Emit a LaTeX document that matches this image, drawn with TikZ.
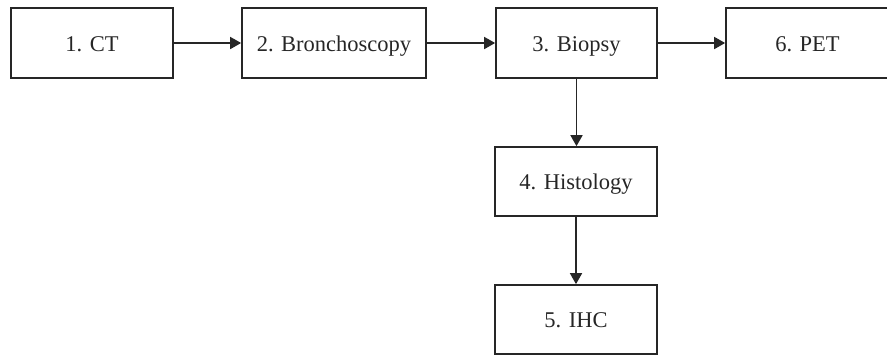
\documentclass[tikz,border=0pt]{standalone}
\usepackage{fontspec}
\setmainfont{Liberation Serif}
\usetikzlibrary{arrows.meta}
\begin{document}
\begin{tikzpicture}[x=1pt,y=-1pt,
  box/.style={draw=black!85, line width=1.7pt, inner sep=0pt, minimum height=70pt,
    text height=16pt, text depth=0pt,
    font=\fontsize{22.5}{27}\selectfont, text=black!85},
  conn/.style={line width=1.7pt, draw=black!85, -{Triangle[length=11pt,width=12pt]}}]
\useasboundingbox (0,0) rectangle (887,354);
\node[box, minimum width=162pt] (ct) at (92,43) {1. CT};
\node[box, minimum width=184pt] (br) at (334,43) {2. Bronchoscopy};
\node[box, minimum width=161pt] (bi) at (576.5,43) {3. Biopsy};
\node[box, minimum width=163pt] (pet) at (807.5,43) {6. PET};
\node[box, minimum width=162pt, minimum height=69pt] (hi) at (576,181.5) {4. Histology};
\node[box, minimum width=162pt, minimum height=69pt] (ihc) at (576,319.5) {5. IHC};
\draw[conn] (ct.east) -- (br.west);
\draw[conn] (br.east) -- (bi.west);
\draw[conn] (bi.east) -- (pet.west);
\draw[conn] (bi.south) -- (bi.south |- hi.north);
\draw[conn] (hi.south) -- (ihc.north);
\end{tikzpicture}
\end{document}
